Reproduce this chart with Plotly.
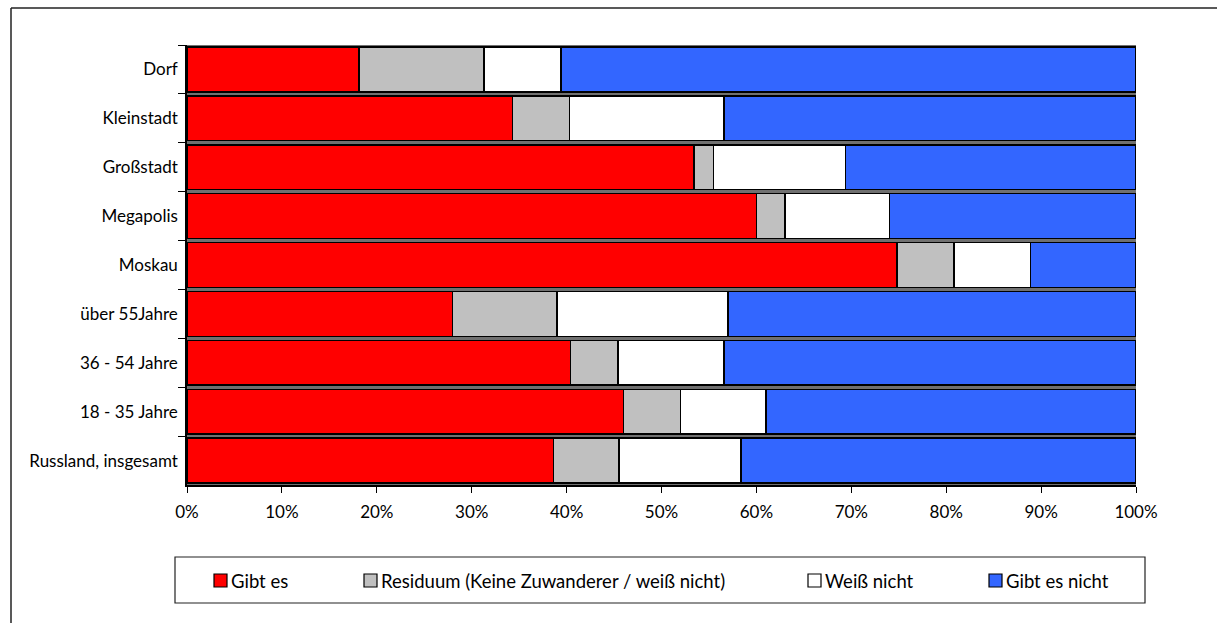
import plotly.graph_objects as go

# Kategorien (von oben nach unten)
categories = [
    "Dorf",
    "Kleinstadt",
    "Großstadt",
    "Megapolis",
    "Moskau",
    "über 55Jahre",
    "36 - 54 Jahre",
    "18 - 35 Jahre",
    "Russland, insgesamt",
]

# Anteile in Prozent
gibt_es = [18.1, 34.3, 53.4, 60.0, 74.8, 28.0, 40.4, 46.0, 38.6]
residuum = [13.2, 6.0, 2.1, 3.0, 6.0, 11.0, 5.0, 6.0, 6.9]
weiss_nicht = [8.1, 16.3, 13.9, 11.0, 8.1, 18.0, 11.2, 9.0, 12.9]
gibt_es_nicht = [60.6, 43.4, 30.6, 26.0, 11.1, 43.0, 43.4, 39.0, 41.6]

series_names = [
    "Gibt es",
    "Residuum (Keine Zuwanderer / weiß nicht)",
    "Weiß nicht",
    "Gibt es nicht",
]
series_values = [gibt_es, residuum, weiss_nicht, gibt_es_nicht]
series_colors = ["#FF0000", "#C0C0C0", "#FFFFFF", "#3366FF"]

x_ticks = [0, 10, 20, 30, 40, 50, 60, 70, 80, 90, 100]
x_ticktext = [f"{t}%" for t in x_ticks]

FONT = "Lato, 'DejaVu Sans', sans-serif"

# Plotbereich in Pixeln
W, H = 1217, 623
L, R, T, B = 187, 1136, 45, 485


def px(x):
    return (x - L) / (R - L)


def py(y):
    return (B - y) / (B - T)


fig = go.Figure()
for name, vals, col in zip(series_names, series_values, series_colors):
    fig.add_trace(
        go.Bar(
            y=categories,
            x=vals,
            name=name,
            orientation="h",
            marker=dict(color=col, line=dict(color="#000000", width=1.5)),
            showlegend=False,
            hovertemplate="%{y}: %{x:.1f}%<extra>" + name + "</extra>",
        )
    )

shapes = []
annotations = []

# Rahmen oben und links
shapes.append(dict(type="line", xref="paper", yref="paper",
                   x0=px(11), x1=px(1217), y0=py(8), y1=py(8),
                   line=dict(color="#222222", width=1.5)))
shapes.append(dict(type="line", xref="paper", yref="paper",
                   x0=px(11), x1=px(11), y0=py(8), y1=py(623),
                   line=dict(color="#222222", width=1.5)))

# Legende
shapes.append(dict(type="rect", xref="paper", yref="paper",
                   x0=px(175), x1=px(1145), y0=py(557), y1=py(603),
                   fillcolor="#FFFFFF", line=dict(color="#222222", width=1.2)))
legend_x = [214, 364, 808, 989]
sq = 13
cy = 580.5
for name, col, lx in zip(series_names, series_colors, legend_x):
    shapes.append(dict(type="rect", xref="paper", yref="paper",
                       x0=px(lx), x1=px(lx + sq),
                       y0=py(cy - sq / 2), y1=py(cy + sq / 2),
                       fillcolor=col, line=dict(color="#000000", width=1.2)))
    annotations.append(dict(xref="paper", yref="paper",
                            x=px(lx + sq + 2), y=py(cy),
                            xanchor="left", yanchor="middle",
                            text=name, showarrow=False,
                            font=dict(family=FONT, size=18.5, color="#000000")))

fig.update_layout(
    width=W,
    height=H,
    barmode="stack",
    bargap=0.085,
    margin=dict(l=L, r=W - R, t=T, b=H - B),
    paper_bgcolor="#FFFFFF",
    plot_bgcolor="#707070",
    font=dict(family=FONT, size=17, color="#000000"),
    xaxis=dict(
        range=[0, 100],
        tickmode="array",
        tickvals=x_ticks,
        ticktext=x_ticktext,
        showgrid=False,
        zeroline=False,
        showline=True,
        linecolor="#000000",
        linewidth=1.5,
        ticks="outside",
        ticklen=6,
        tickcolor="#000000",
        tickwidth=1.2,
        ticklabelstandoff=5,
        fixedrange=True,
    ),
    yaxis=dict(
        autorange="reversed",
        showgrid=False,
        zeroline=False,
        showline=True,
        linecolor="#000000",
        linewidth=1.5,
        ticks="outside",
        tickson="boundaries",
        ticklen=7,
        tickcolor="#000000",
        tickwidth=1.2,
        ticklabelstandoff=4,
        fixedrange=True,
    ),
    shapes=shapes,
    annotations=annotations,
    showlegend=False,
)

fig.write_html("out.html")
